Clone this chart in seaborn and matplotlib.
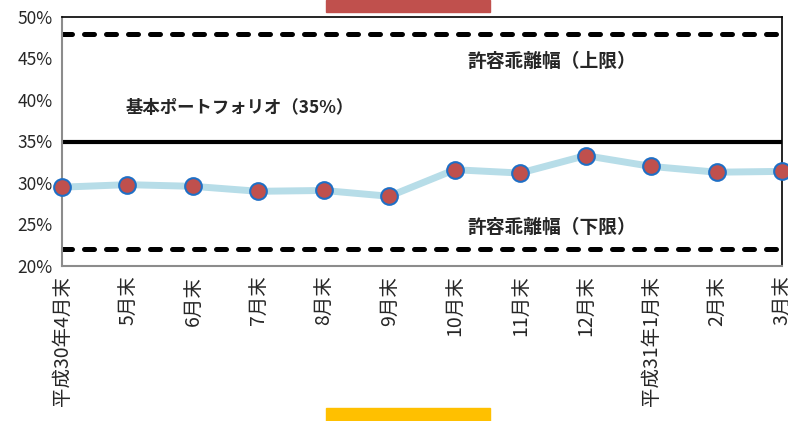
import numpy as np
import pandas as pd
import matplotlib
matplotlib.use('Agg')
import matplotlib.pyplot as plt
import seaborn as sns
from matplotlib.patches import Rectangle

months = ['平成30年4月末', '5月末', '6月末', '7月末', '8月末', '9月末',
          '10月末', '11月末', '12月末', '平成31年1月末', '2月末', '3月末']
share = [29.5, 29.8, 29.6, 29.0, 29.1, 28.4, 31.6, 31.2, 33.3, 32.0, 31.3, 31.4]
base_level = 35
upper_level = 48
lower_level = 22
y_ticks = [20, 25, 30, 35, 40, 45, 50]

df = pd.DataFrame({'pos': np.arange(len(months)), 'share': share})

sns.set_style('white')
plt.rcParams['font.family'] = ['Noto Sans CJK JP', 'DejaVu Sans']

fig = plt.figure(figsize=(7.88, 4.21), dpi=100)
ax = fig.add_axes([62 / 788, 1 - 266 / 421, 720 / 788, 249 / 421])

# reference lines
ax.axhline(base_level, color='black', lw=3, zorder=2)
for lvl in [upper_level, lower_level]:
    ax.axhline(lvl, color='black', lw=3.6, ls=(0, (2.0, 2.4)),
               dash_capstyle='round', zorder=2)

sns.lineplot(data=df, x='pos', y='share', ax=ax, color='#b7dde8', lw=5,
             marker='o', markersize=12, markerfacecolor='#c0504d',
             markeredgecolor='#1f6fc5', markeredgewidth=1.5, zorder=3,
             clip_on=False)

ax.text(2.72, 39.0, '基本ポートフォリオ（35%）', fontsize=12.5, fontweight='bold',
        ha='center', va='center')
ax.text(7.49, 44.6, '許容乖離幅（上限）', fontsize=13.5, fontweight='bold',
        ha='center', va='center')
ax.text(7.49, 24.6, '許容乖離幅（下限）', fontsize=13.5, fontweight='bold',
        ha='center', va='center')

ax.set_xlim(0, len(months) - 1)
ax.set_ylim(20, 50)
ax.set_yticks(y_ticks)
ax.set_yticklabels([f'{t}%' for t in y_ticks], fontsize=12.5)
ax.set_xticks(df['pos'])
ax.set_xticklabels(months, rotation=90, fontsize=14, va='top')
ax.set_xlabel('')
ax.set_ylabel('')

for side in ['left', 'bottom']:
    ax.spines[side].set_color('#8c8c8c')
    ax.spines[side].set_linewidth(1.5)
for side in ['top', 'right']:
    ax.spines[side].set_color('black')
    ax.spines[side].set_linewidth(1.2)
ax.tick_params(axis='both', direction='out', length=5, color='#8c8c8c',
               width=1.2, pad=2)

# decorative bars above and below the chart
fig.patches.append(Rectangle((326 / 788, 1 - 12 / 421), 164 / 788, 12 / 421,
                             transform=fig.transFigure, color='#c0504d'))
fig.patches.append(Rectangle((326 / 788, 0), 164 / 788, 13 / 421,
                             transform=fig.transFigure, color='#ffc000'))

fig.savefig('out.png', dpi=100)
